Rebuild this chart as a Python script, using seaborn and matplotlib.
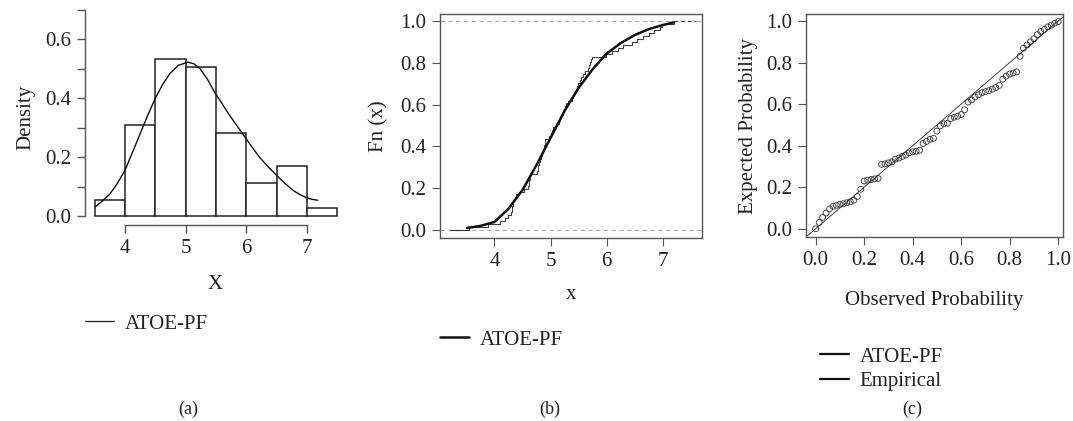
import numpy as np
import seaborn as sns
import matplotlib.pyplot as plt
from matplotlib.lines import Line2D

sample = [3.55, 3.88,
          4.10, 4.18, 4.25, 4.29, 4.31, 4.32, 4.33, 4.34, 4.36, 4.38, 4.43,
          4.52, 4.60, 4.61, 4.62, 4.63, 4.64, 4.76, 4.77, 4.78, 4.79, 4.82,
          4.83, 4.85, 4.86, 4.88, 4.89, 4.90, 4.91, 4.98,
          5.01, 5.03, 5.04, 5.10, 5.15, 5.17, 5.18, 5.22, 5.24, 5.25, 5.27,
          5.32, 5.38, 5.40, 5.42, 5.45, 5.47, 5.49,
          5.52, 5.55, 5.58, 5.62, 5.66, 5.68, 5.70, 5.72, 5.74, 5.98,
          6.10, 6.20, 6.30, 6.45,
          6.55, 6.65, 6.75, 6.85, 6.95, 6.98,
          7.20]
hist_bins = [3.5, 4.0, 4.5, 5.0, 5.5, 6.0, 6.5, 7.0, 7.5]

# angepasste Dichte (ATOE-PF)
dens_x = [3.51, 3.62, 3.75, 3.87, 4.0, 4.13, 4.27, 4.38, 4.5, 4.62, 4.74, 4.88, 5.04,
          5.14, 5.24, 5.36, 5.48, 5.6, 5.7, 5.81, 5.92, 6.07, 6.22, 6.36, 6.5,
          6.64, 6.77, 6.88, 6.99, 7.09, 7.18]
dens_y = [0.032, 0.050, 0.075, 0.110, 0.156, 0.220, 0.290, 0.345, 0.400, 0.447, 0.484,
          0.512, 0.523, 0.517, 0.500, 0.465, 0.420, 0.383, 0.350, 0.318, 0.286,
          0.242, 0.200, 0.168, 0.139, 0.111, 0.088, 0.074, 0.063, 0.057, 0.054]

# angepasste Verteilungsfunktion
cdf_x = [3.51, 3.75, 4.0, 4.25, 4.5, 4.75, 5.0, 5.25, 5.5, 5.75, 6.0, 6.25, 6.5,
         6.75, 7.0, 7.2]
cdf_y = [0.008, 0.018, 0.037, 0.10, 0.19, 0.31, 0.44, 0.57, 0.68, 0.77, 0.845,
         0.895, 0.934, 0.962, 0.982, 0.995]

# P-P Plot: erwartete Wahrscheinlichkeiten
expected = [0.00, 0.03, 0.055, 0.075, 0.095, 0.108, 0.113, 0.117, 0.12, 0.125,
            0.13, 0.137, 0.155, 0.19, 0.23, 0.234, 0.237, 0.24, 0.242, 0.31,
            0.312, 0.317, 0.322, 0.335, 0.34, 0.348, 0.355, 0.365, 0.37, 0.373,
            0.378, 0.41, 0.42, 0.43, 0.435, 0.47, 0.495, 0.505, 0.508, 0.53,
            0.537, 0.542, 0.55, 0.573, 0.61, 0.62, 0.635, 0.645, 0.655, 0.66,
            0.665, 0.672, 0.68, 0.69, 0.72, 0.735, 0.745, 0.75, 0.755, 0.83,
            0.87, 0.885, 0.90, 0.915, 0.935, 0.95, 0.96, 0.972, 0.98, 0.99, 0.997]

sns.set_style("ticks")
plt.rcParams['font.family'] = ['Liberation Serif', 'DejaVu Serif']
plt.rcParams['font.size'] = 15
plt.rcParams['text.color'] = "#222222"
plt.rcParams['xtick.color'] = "#555555"
plt.rcParams['ytick.color'] = "#555555"
plt.rcParams['xtick.labelcolor'] = "#222222"
plt.rcParams['ytick.labelcolor'] = "#222222"
plt.rcParams['axes.labelcolor'] = "#222222"

fig = plt.figure(figsize=(10.73, 4.21), dpi=100)
W, H = 1073, 421

def box(l, r, t, b):
    return [l / W, 1 - b / H, (r - l) / W, (b - t) / H]

frame_col = "#555555"
labels01 = ["0.0", "0.2", "0.4", "0.6", "0.8", "1.0"]

# (a) Histogramm mit Dichte
ax1 = fig.add_axes(box(85, 345, 10, 225))
sns.histplot(x=sample, bins=hist_bins, stat="density", ax=ax1,
             color="white", edgecolor="#222222", linewidth=1.1, alpha=1)
sns.lineplot(x=dens_x, y=dens_y, ax=ax1, color="#111111", lw=1.0, sort=False)
ax1.set_xlim(3.34, 7.63)
ax1.set_ylim(-0.03, 0.7)
for s in ["top", "right"]:
    ax1.spines[s].set_visible(False)
ax1.spines["left"].set_bounds(0, 0.7)
ax1.spines["bottom"].set_bounds(4, 7)
ax1.set_yticks(np.arange(0, 0.71, 0.1))
ax1.set_yticklabels(["0.0", "", "0.2", "", "0.4", "", "0.6", ""])
ax1.set_xticks([4, 5, 6, 7])
ax1.set_xlabel("X", labelpad=12)
ax1.set_ylabel("Density", labelpad=7)
for sp in ax1.spines.values():
    sp.set_color(frame_col)
    sp.set_linewidth(1.0)
ax1.tick_params(length=6, width=1.0, pad=4)

# (b) ECDF
ax2 = fig.add_axes(box(440, 702, 14, 238))
ax2.axhline(0, color="#aaaaaa", ls=(0, (4, 3)), lw=0.8)
ax2.axhline(1, color="#aaaaaa", ls=(0, (4, 3)), lw=0.8)
sns.ecdfplot(x=sample, ax=ax2, color="#444444", lw=0.8)
ax2.plot([3.2, min(sample)], [0, 0], color="#333333", lw=0.8)
ax2.plot([max(sample), 7.6], [1, 1], color="#333333", lw=0.8, ls=(0, (3, 3)))
sns.lineplot(x=cdf_x, y=cdf_y, ax=ax2, color="#111111", lw=1.8, sort=False)
ax2.set_xlim(3.03, 7.7)
ax2.set_ylim(-0.04, 1.035)
ax2.set_xticks([4, 5, 6, 7])
ax2.set_yticks([0, 0.2, 0.4, 0.6, 0.8, 1.0])
ax2.set_yticklabels(labels01)
ax2.set_xlabel("x", labelpad=10)
ax2.set_ylabel("Fn (x)", labelpad=8)
for sp in ax2.spines.values():
    sp.set_color(frame_col)
    sp.set_linewidth(1.0)
ax2.tick_params(length=6, pad=4)

# (c) P-P Plot
n = len(expected)
observed = np.arange(n) / (n - 1)
ax3 = fig.add_axes(box(806, 1063, 14, 237))
ax3.axline((0, 0), slope=1, color="#222222", lw=0.6)
sns.scatterplot(x=observed, y=expected, ax=ax3, marker="o", s=18,
                facecolor="none", edgecolor="#333333", linewidth=0.6)
ax3.set_xlim(-0.04, 1.02)
ax3.set_ylim(-0.04, 1.034)
ax3.set_xticks([0, 0.2, 0.4, 0.6, 0.8, 1.0])
ax3.set_yticks([0, 0.2, 0.4, 0.6, 0.8, 1.0])
ax3.set_xticklabels(labels01)
ax3.set_yticklabels(labels01)
ax3.set_xlabel("Observed Probability", labelpad=15)
ax3.set_ylabel("Expected Probability", labelpad=6)
for sp in ax3.spines.values():
    sp.set_color(frame_col)
    sp.set_linewidth(1.0)
ax3.tick_params(length=6, pad=4)

# Legenden
def leg(handles, labels, x, y):
    fig.legend(handles=handles, labels=labels, loc="upper left",
               bbox_to_anchor=(x / W, 1 - y / H), frameon=False,
               handlelength=1.4, handletextpad=0.5, borderpad=0,
               borderaxespad=0, labelspacing=0.25, fontsize=15)

leg([Line2D([], [], color="#222222", lw=0.9)], ["ATOE-PF"], 85, 314)
leg([Line2D([], [], color="#111111", lw=1.8)], ["ATOE-PF"], 440, 330)
leg([Line2D([], [], color="#111111", lw=1.6), Line2D([], [], color="#111111", lw=1.6)],
    ["ATOE-PF", "Empirical"], 820, 347)

for lab, xc in [("(a)", 188), ("(b)", 550), ("(c)", 912)]:
    fig.text(xc / W, 1 - 409 / H, lab, ha="center", va="center", fontsize=13)

plt.savefig("out.png", dpi=100)
plt.close()
